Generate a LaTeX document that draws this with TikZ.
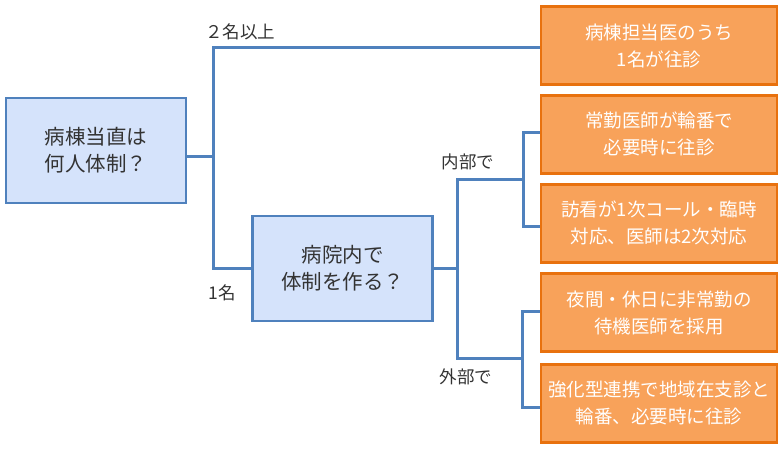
\documentclass[tikz,border=0pt]{standalone}
\usepackage{fontspec}
\setmainfont{Noto Sans CJK JP}
\usetikzlibrary{calc, positioning}
\definecolor{qfill}{HTML}{D5E3FB}
\definecolor{qline}{HTML}{4F81BD}
\definecolor{afill}{HTML}{F8A25A}
\definecolor{aline}{HTML}{E8710E}
\tikzset{
    qbox/.style={draw=qline, fill=qfill, line width=2.5pt, minimum width=180pt, minimum height=105pt,
        inner sep=0pt, align=center, text=black!80, font=\fontsize{20.5}{27}\selectfont},
    abox/.style={draw=aline, fill=afill, line width=2.5pt, minimum width=236pt, minimum height=78pt,
        inner sep=0pt, align=center, text=white, font=\fontsize{18.5}{27}\selectfont},
    elbow/.style={draw=qline, line width=3pt},
    lbl/.style={inner sep=0pt, text=black!80, font=\fontsize{17.5}{20}\selectfont}
}

\begin{document}
\begin{tikzpicture}[x=1pt, y=-1pt]
    \useasboundingbox (0,0) rectangle (782,449);
    % questions
    \node[qbox] (q1) at (96, 150.5) {病棟当直は\\何人体制？};
    \node[qbox] (q2) at (342.5, 268.5) {病院内で\\体制を作る？};
    % answers
    \node[abox] (o1) at (659, 45.7) {病棟担当医のうち\\1名が往診};
    \node[abox] (o2) at (659, 134.3) {常勤医師が輪番で\\必要時に往診};
    \node[abox] (o3) at (659, 223.3) {訪看が1次コール・臨時\\対応、医師は2次対応};
    \node[abox] (o4) at (659, 312.7) {夜間・休日に非常勤の\\待機医師を採用};
    \node[abox] (o5) at (659, 403.3) {強化型連携で地域在支診と\\輪番、必要時に往診};
    % branch points
    \coordinate (j1) at (213, 157);
    \coordinate (t1) at (213, 48);
    \coordinate (b1) at (213, 268.5);
    \coordinate (j2) at (457, 268.5);
    \coordinate (t2) at (457, 180);
    \coordinate (b2) at (457, 358);
    \coordinate (j3) at (523, 180);
    \coordinate (j4) at (522, 358);
    \draw[elbow] (q1.east |- j1) -- (j1);
    \draw[elbow] (t1 -| o1.west) -- (t1) -- (b1) -- (q2.west);
    \draw[elbow] (q2.east) -- (j2);
    \draw[elbow] (j3) -- (t2) -- (b2) -- (j4);
    \draw[elbow] (o2.west |- 0,133) -- (j3 |- 0,133) -- (j3 |- 0,227) -- (o3.west |- 0,227);
    \draw[elbow] (o4.west |- 0,311) -- (j4 |- 0,311) -- (j4 |- 0,407) -- (o5.west |- 0,407);
    % labels
    \node[lbl] (n2) at (240, 32) {２名以上};
    \node[lbl] (n1) at (222, 293) {1名};
    \node[lbl] (in) at (468, 162) {内部で};
    \node[lbl] (ex) at (466, 377) {外部で};
\end{tikzpicture}
\end{document}
